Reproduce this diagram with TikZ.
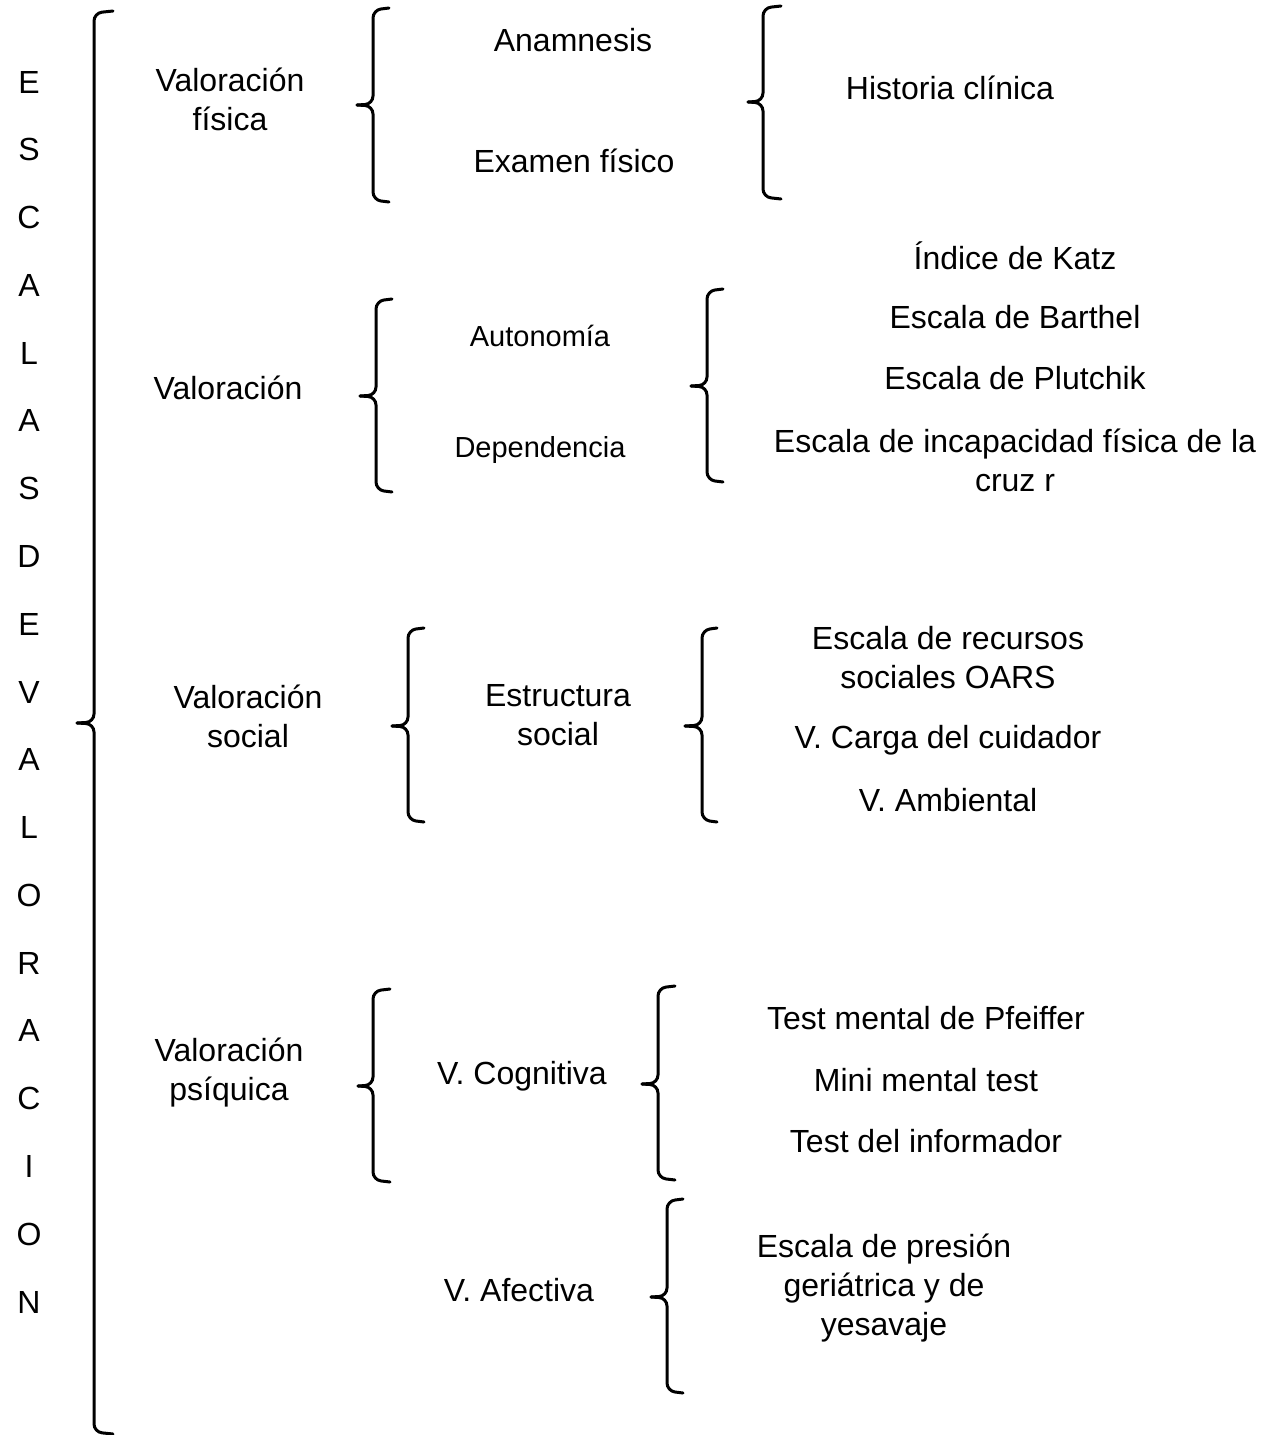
\documentclass[tikz,border=0pt]{standalone}
\usepackage{fontspec}
\setmainfont{Liberation Sans}
\begin{document}
\begin{tikzpicture}[x=0.5pt,y=-0.5pt,
  lbl/.style={font=\fontsize{16}{19.5}\selectfont, align=center, inner sep=0pt, anchor=center},
  slbl/.style={font=\fontsize{14.5}{17.5}\selectfont, align=center, inner sep=0pt, anchor=center},
  brc/.style={line width=1.5pt, rounded corners=4pt, line cap=round}]
\useasboundingbox (0,0) rectangle (1274,1435);
\newcommand\drawbrace[6]{% x, top, mid, bottom, left tip, right tips
  \draw[brc] (#6,#2-1) -- (#1,#2+1) -- (#1,#3-1) -- (#5,#3) ;
  \draw[brc] (#5,#3) -- (#1,#3+1) -- (#1,#4-1) -- (#6,#4+1);
}
% vertical title letters
\foreach \ch [count=\i from 0] in {E,S,C,A,L,A,S,D,E,V,A,L,O,R,A,C,I,O,N}
  \node[lbl] (t\i) at (29,82+67.78*\i) {\ch};
% braces
\drawbrace{94}{12}{723}{1433}{77}{113}
\drawbrace{373}{9}{105}{201}{357}{389}
\drawbrace{763}{7}{102}{198}{748}{781}
\drawbrace{376}{300}{396}{491}{360}{392}
\drawbrace{707}{290}{386}{481}{691}{723}
\drawbrace{408}{629}{726}{821}{392}{424}
\drawbrace{702}{629}{726}{821}{685}{717}
\drawbrace{373}{990}{1086}{1181}{358}{390}
\drawbrace{658}{987}{1084}{1179}{642}{675}
\drawbrace{667}{1200}{1297}{1392}{651}{683}
% texts
\node[lbl] (vf) at (230,99) {Valoración\\física};
\node[lbl] (anam) at (573,40) {Anamnesis};
\node[lbl] (exf) at (574,161) {Examen físico};
\node[lbl] (hist) at (950,88) {Historia clínica};
\node[lbl] (katz) at (1015,256) {Índice de Katz};
\node[lbl] (barth) at (1015,317) {Escala de Barthel};
\node[lbl] (plut) at (1015,378) {Escala de Plutchik};
\node[lbl] (cruz) at (1015,460) {Escala de incapacidad física de la\\cruz r};
\node[lbl] (val) at (228,388) {Valoración};
\node[slbl] (auto) at (540,336) {Autonomía};
\node[slbl] (dep) at (540,450) {Dependencia};
\node[lbl] (vs) at (248,716) {Valoración\\social};
\node[lbl] (es) at (558,715) {Estructura\\social};
\node[lbl] (oars) at (948,658) {Escala de recursos\\sociales OARS};
\node[lbl] (carga) at (948,740) {V. Carga del cuidador};
\node[lbl] (amb) at (948,800) {V. Ambiental};
\node[lbl] (vp) at (229,1073) {Valoración\\psíquica};
\node[lbl] (cog) at (522,1076) {V. Cognitiva};
\node[lbl] (pfe) at (926,1018) {Test mental de Pfeiffer};
\node[lbl] (mini) at (926,1080) {Mini mental test};
\node[lbl] (inf) at (926,1141) {Test del informador};
\node[lbl] (afe) at (519,1290) {V. Afectiva};
\node[lbl] (yes) at (884,1288) {Escala de presión\\geriátrica y de\\yesavaje};
\end{tikzpicture}
\end{document}
